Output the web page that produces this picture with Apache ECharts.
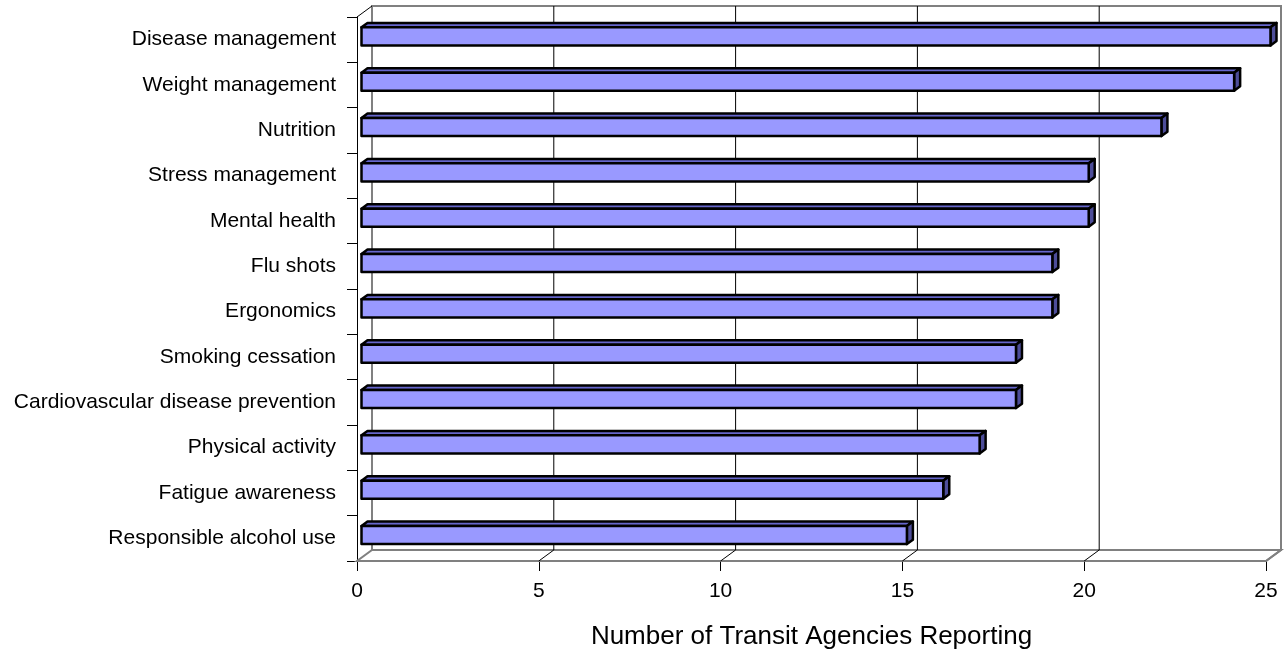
<!DOCTYPE html>
<html>
<head>
<meta charset="utf-8">
<script src="https://cdn.jsdelivr.net/npm/echarts@6/dist/echarts.min.js"></script>
<style>
  html, body { margin: 0; padding: 0; background: #ffffff; }
  #chart { width: 1286px; height: 657px; }
</style>
</head>
<body>
<div id="chart"></div>
<script>
// Wellness programs offered, by number of transit agencies reporting
const categories = [
  'Disease management',
  'Weight management',
  'Nutrition',
  'Stress management',
  'Mental health',
  'Flu shots',
  'Ergonomics',
  'Smoking cessation',
  'Cardiovascular disease prevention',
  'Physical activity',
  'Fatigue awareness',
  'Responsible alcohol use'
];
const agencyCounts = [25, 24, 22, 20, 20, 19, 19, 18, 18, 17, 16, 15];
const xTicks = [0, 5, 10, 15, 20, 25];
const xTitle = 'Number of Transit Agencies Reporting';

// pseudo-3D depth of the plot box (back wall offset from the front plane)
const DEPTH_X = 15;
const DEPTH_Y = -11;
const FONT = '"Liberation Sans", Arial, sans-serif';

const chart = echarts.init(document.getElementById('chart'), null, { renderer: 'canvas' });

// back wall, floor, side edge and gridlines of the 3D box
function renderBox(params, api) {
  const cs = params.coordSys;
  const L = cs.x, T = cs.y, R = cs.x + cs.width, B = cs.y + cs.height;
  const grey = '#808080';
  const children = [];
  // back wall
  children.push({
    type: 'rect',
    shape: { x: L + DEPTH_X, y: T + DEPTH_Y, width: cs.width, height: cs.height },
    style: { fill: '#ffffff', stroke: grey, lineWidth: 2 }
  });
  // floor
  children.push({
    type: 'polygon',
    shape: { points: [[L, B], [R, B], [R + DEPTH_X, B + DEPTH_Y], [L + DEPTH_X, B + DEPTH_Y]] },
    style: { fill: '#ffffff', stroke: grey, lineWidth: 2 }
  });
  // gridlines on the back wall and their floor diagonals
  xTicks.forEach(function (t) {
    const x = api.coord([t, 0])[0];
    const last = t === xTicks[xTicks.length - 1];
    if (t !== xTicks[0] && !last) {
      children.push({
        type: 'line',
        shape: { x1: x + DEPTH_X, y1: T + DEPTH_Y, x2: x + DEPTH_X, y2: B + DEPTH_Y },
        style: { stroke: '#000000', lineWidth: 1 }
      });
    }
    if (t !== xTicks[0]) {
      children.push({
        type: 'line',
        shape: { x1: x, y1: B, x2: x + DEPTH_X, y2: B + DEPTH_Y },
        style: { stroke: last ? grey : '#000000', lineWidth: last ? 2 : 1 }
      });
    }
  });
  // top-left edge of the side wall
  children.push({
    type: 'line',
    shape: { x1: L, y1: T, x2: L + DEPTH_X, y2: T + DEPTH_Y },
    style: { stroke: '#000000', lineWidth: 1 }
  });
  return { type: 'group', children: children };
}

// 3D bar: front face, top face and end face
function renderBar(params, api) {
  const value = api.value(0);
  const idx = api.value(1);
  const p0 = api.coord([0, idx]);
  const p1 = api.coord([value, idx]);
  const band = api.size([0, 1])[1];
  const h = band * 0.4;
  // bar sits between 30% and 70% of the box depth
  const fx = DEPTH_X * 0.3, fy = DEPTH_Y * 0.3;
  const dx = DEPTH_X * 0.4, dy = DEPTH_Y * 0.4;
  const x0 = p0[0] + fx, x1 = p1[0] + fx;
  const yTop = p0[1] + fy - h / 2, yBot = p0[1] + fy + h / 2;
  const stroke = '#000000';
  const lw = 2.5;
  return {
    type: 'group',
    children: [
      {
        type: 'polygon',
        shape: { points: [[x0, yTop], [x1, yTop], [x1 + dx, yTop + dy], [x0 + dx, yTop + dy]] },
        style: { fill: '#6666CC', stroke: stroke, lineWidth: lw, lineJoin: 'round' }
      },
      {
        type: 'polygon',
        shape: { points: [[x1, yTop], [x1 + dx, yTop + dy], [x1 + dx, yBot + dy], [x1, yBot]] },
        style: { fill: '#4D4D99', stroke: stroke, lineWidth: lw, lineJoin: 'round' }
      },
      {
        type: 'rect',
        shape: { x: x0, y: yTop, width: x1 - x0, height: h },
        style: { fill: '#9999FF', stroke: stroke, lineWidth: lw, lineJoin: 'round' }
      }
    ]
  };
}

const option = {
  backgroundColor: '#ffffff',
  animation: false,
  grid: { left: 357, right: 20, top: 17, bottom: 96, containLabel: false },
  xAxis: {
    type: 'value',
    min: xTicks[0],
    max: xTicks[xTicks.length - 1],
    interval: 5,
    axisLine: { show: true, lineStyle: { color: '#000000', width: 1 } },
    axisTick: { show: true, length: 10, lineStyle: { color: '#000000' } },
    axisLabel: { color: '#000000', fontSize: 21, fontFamily: FONT, margin: 20 },
    splitLine: { show: false },
    name: xTitle,
    nameLocation: 'middle',
    nameGap: 63,
    nameTextStyle: { color: '#000000', fontSize: 26, fontFamily: FONT }
  },
  yAxis: {
    type: 'category',
    data: categories,
    inverse: true,
    axisLine: { show: true, lineStyle: { color: '#000000', width: 1 } },
    axisTick: { show: true, length: 10, lineStyle: { color: '#000000' } },
    axisLabel: { color: '#000000', fontSize: 21, fontFamily: FONT, margin: 21, padding: [4, 0, 0, 0] },
    splitLine: { show: false }
  },
  series: [
    {
      type: 'custom',
      name: 'box',
      renderItem: renderBox,
      data: [[0, 0]],
      z: 1,
      silent: true
    },
    {
      type: 'custom',
      name: 'Agencies',
      renderItem: renderBar,
      encode: { x: 0, y: 1 },
      data: agencyCounts.map(function (v, i) { return [v, i]; }),
      z: 3
    }
  ]
};

chart.setOption(option);
</script>
</body>
</html>
